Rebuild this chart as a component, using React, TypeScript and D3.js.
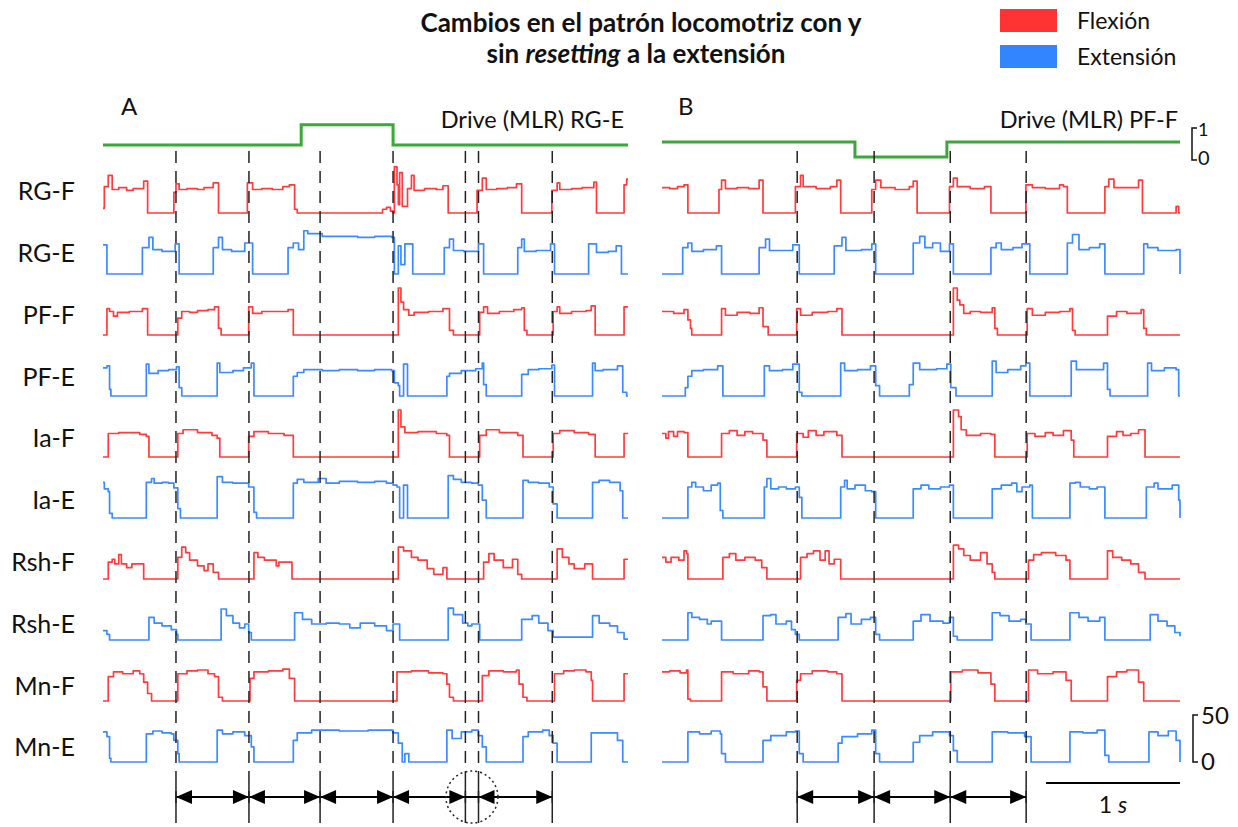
import React, { useEffect, useRef } from 'react';
import * as d3 from 'd3';

type Pt = [number, number];

// etiquetas de filas (de arriba abajo)
const rowLabels = ['RG-F', 'RG-E', 'PF-F', 'PF-E', 'Ia-F', 'Ia-E', 'Rsh-F', 'Rsh-E', 'Mn-F', 'Mn-E'];

// tiempos (s) de las lineas discontinuas
const dashA = [0.556, 1.112, 1.654, 2.21, 2.761, 2.861, 3.423];
const dashB = [1.044, 1.638, 2.226, 2.812];

// pares de lineas unidas por flechas
const arrowsA = [[0, 1], [1, 2], [2, 3], [3, 4], [5, 6]];
const arrowsB = [[0, 1], [1, 2], [2, 3]];

// drive (MLR), unidades 0..1
const driveA: Pt[] = [[0, 0.47], [1.51, 1.1], [2.21, 0.47], [4, 0.47]];
const driveB: Pt[] = [[0, 0.56], [1.49, 0.09], [2.2, 0.56], [4, 0.56]];

// ---- Panel A: actividad [t (s), valor] ----
const rgF_A: Pt[] = [[0,5],[0.01,28],[0.04,40],[0.07,25],[0.12,27],[0.18,24],[0.23,26],[0.31,34],[0.34,0],
  [0.54,22],[0.556,31],[0.58,25],[0.64,26],[0.72,25],[0.77,27],[0.84,32],[0.88,0],
  [1.1,32],[1.14,25],[1.21,26],[1.29,25],[1.37,28],[1.42,30],[1.46,4],[1.48,0],
  [2.13,4],[2.16,6],[2.19,2],[2.21,0],[2.22,49],[2.24,30],[2.25,9],[2.26,43],[2.28,7],[2.32,26],[2.35,40],[2.37,24],[2.45,26],[2.54,25],[2.59,29],[2.63,0],
  [2.85,24],[2.89,37],[2.92,25],[3.0,26],[3.08,27],[3.15,31],[3.19,0],
  [3.42,24],[3.46,32],[3.48,25],[3.57,26],[3.65,27],[3.74,33],[3.76,0],
  [3.97,30],[3.99,36],[4,36]];
const rgE_A: Pt[] = [[0,31],[0.02,31],[0.03,0],
  [0.3,28],[0.35,39],[0.38,26],[0.45,24],[0.55,32],[0.58,0],
  [0.84,28],[0.88,39],[0.91,26],[0.98,24],[1.08,33],[1.14,0],
  [1.41,28],[1.45,33],[1.49,26],[1.53,46],[1.56,43],[1.67,40],[1.8,40],[1.94,39],[2.07,40],[2.2,39],[2.22,0],[2.25,30],[2.27,10],[2.3,32],[2.36,0],
  [2.6,28],[2.64,37],[2.67,25],[2.75,24],[2.86,32],[2.9,0],
  [3.16,28],[3.19,37],[3.21,24],[3.3,25],[3.41,32],[3.44,0],
  [3.7,32],[3.76,23],[3.85,24],[3.91,30],[3.95,0],[4,0]];
const pfF_A: Pt[] = [[0,0],[0.03,28],[0.05,25],[0.08,20],[0.11,24],[0.2,25],[0.3,28],[0.34,0],
  [0.57,18],[0.6,25],[0.66,24],[0.72,26],[0.8,27],[0.85,30],[0.88,7],[0.9,0],
  [1.11,30],[1.14,23],[1.21,25],[1.32,25],[1.41,27],[1.45,0],
  [2.25,50],[2.27,35],[2.29,27],[2.33,21],[2.37,24],[2.48,25],[2.59,28],[2.64,5],[2.67,0],
  [2.87,24],[2.9,30],[2.93,23],[3.02,25],[3.13,27],[3.19,29],[3.21,5],[3.23,0],
  [3.43,25],[3.46,30],[3.48,23],[3.57,25],[3.68,26],[3.72,31],[3.75,0],
  [3.97,30],[4,30]];
const pfE_A: Pt[] = [[0,30],[0.03,32],[0.05,7],[0.06,0],
  [0.33,34],[0.35,24],[0.42,27],[0.5,28],[0.56,31],[0.58,9],[0.6,0],
  [0.87,35],[0.89,25],[0.99,27],[1.07,30],[1.13,35],[1.15,0],
  [1.45,21],[1.48,25],[1.53,28],[1.67,27],[1.8,28],[1.94,27],[2.07,28],[2.2,27],[2.22,14],[2.25,11],[2.26,0],[2.29,34],[2.32,0],
  [2.62,21],[2.64,24],[2.73,27],[2.84,29],[2.89,35],[2.9,12],[2.92,0],
  [3.19,23],[3.24,28],[3.32,29],[3.42,33],[3.44,0],
  [3.73,35],[3.75,27],[3.81,28],[3.92,32],[3.96,4],[3.99,0],[4,0]];
const iaF_A: Pt[] = [[0,0],[0.04,25],[0.12,26],[0.2,26],[0.28,24],[0.33,22],[0.35,0],
  [0.57,25],[0.61,29],[0.72,26],[0.83,23],[0.87,20],[0.89,0],
  [1.11,22],[1.15,27],[1.26,25],[1.38,23],[1.45,0],
  [2.25,50],[2.27,32],[2.3,26],[2.4,27],[2.54,25],[2.62,23],[2.64,0],
  [2.87,23],[2.92,29],[3.02,26],[3.16,23],[3.2,0],
  [3.43,25],[3.48,28],[3.59,26],[3.7,24],[3.75,0],
  [3.97,25],[4,25]];
const iaE_A: Pt[] = [[0,38],[0.01,31],[0.04,28],[0.05,5],[0.07,0],
  [0.33,38],[0.37,42],[0.39,37],[0.45,38],[0.5,37],[0.54,32],[0.57,10],[0.59,0],
  [0.87,44],[0.91,38],[0.99,37],[1.07,37],[1.11,33],[1.15,6],[1.17,0],
  [1.45,37],[1.48,41],[1.53,38],[1.64,42],[1.7,37],[1.8,39],[1.94,38],[2.07,39],[2.16,37],[2.21,35],[2.24,33],[2.26,0],[2.29,35],[2.32,0],
  [2.63,45],[2.67,41],[2.73,38],[2.81,37],[2.86,35],[2.89,19],[2.92,0],
  [3.2,40],[3.24,38],[3.32,37],[3.4,33],[3.43,15],[3.46,0],
  [3.73,38],[3.78,40],[3.86,38],[3.94,29],[3.96,0],[4,0]];
const rshF_A: Pt[] = [[0,0],[0.04,18],[0.07,21],[0.09,16],[0.12,26],[0.14,16],[0.18,12],[0.22,16],[0.31,0],
  [0.57,23],[0.6,34],[0.63,28],[0.66,20],[0.72,14],[0.77,9],[0.8,16],[0.84,7],[0.88,0],
  [1.15,28],[1.18,23],[1.23,20],[1.32,14],[1.34,18],[1.44,0],
  [2.25,34],[2.29,30],[2.35,23],[2.4,20],[2.47,11],[2.52,5],[2.59,12],[2.62,0],
  [2.9,18],[2.94,27],[2.98,20],[3.05,12],[3.12,21],[3.16,5],[3.19,0],
  [3.46,32],[3.5,23],[3.55,16],[3.59,11],[3.67,16],[3.73,0],
  [3.97,21],[4,21]];
const rshE_A: Pt[] = [[0,10],[0.03,6],[0.05,0],
  [0.35,24],[0.39,18],[0.45,15],[0.52,11],[0.56,6],[0.57,0],
  [0.9,33],[0.94,26],[0.99,18],[1.04,13],[1.08,17],[1.11,8],[1.13,0],
  [1.46,29],[1.52,22],[1.59,17],[1.7,18],[1.8,17],[1.88,13],[1.96,18],[2.07,15],[2.16,10],[2.21,17],[2.26,0],
  [2.63,34],[2.67,27],[2.74,18],[2.78,15],[2.81,17],[2.87,0],
  [3.19,22],[3.27,26],[3.32,18],[3.39,10],[3.43,3],
  [3.73,26],[3.78,18],[3.86,15],[3.92,8],[3.97,1],[4,1]];
const mnF_A: Pt[] = [[0,0],[0.04,26],[0.08,31],[0.15,29],[0.23,32],[0.28,29],[0.31,20],[0.34,8],[0.37,0],
  [0.57,29],[0.64,32],[0.72,33],[0.8,29],[0.85,26],[0.88,4],[0.91,0],
  [1.12,24],[1.15,31],[1.26,32],[1.37,34],[1.42,24],[1.46,0],
  [2.24,31],[2.35,32],[2.48,30],[2.59,29],[2.62,18],[2.64,4],[2.67,0],
  [2.89,27],[2.94,32],[3.05,31],[3.15,33],[3.17,18],[3.2,4],[3.23,0],
  [3.44,29],[3.51,32],[3.59,33],[3.68,31],[3.72,22],[3.73,0],
  [3.97,29],[4,29]];
const mnE_A: Pt[] = [[0,32],[0.03,27],[0.05,4],[0.06,0],
  [0.33,30],[0.38,33],[0.45,31],[0.52,30],[0.54,23],[0.57,9],[0.58,0],
  [0.87,34],[0.91,30],[0.99,32],[1.08,28],[1.13,16],[1.15,0],
  [1.45,23],[1.48,31],[1.59,34],[1.8,33],[2.02,34],[2.21,31],[2.25,20],[2.28,0],[2.3,9],[2.33,0],
  [2.62,34],[2.66,25],[2.73,32],[2.81,34],[2.86,28],[2.89,16],[2.92,0],
  [3.2,27],[3.24,32],[3.35,34],[3.4,28],[3.43,20],[3.46,0],
  [3.72,31],[3.84,31],[3.92,23],[3.96,0],[4,0]];

// ---- Panel B ----
const rgF_B: Pt[] = [[0,27],[0.06,26],[0.12,28],[0.17,30],[0.2,0],
  [0.44,25],[0.46,35],[0.49,26],[0.58,27],[0.67,26],[0.75,35],[0.78,0],
  [1.03,28],[1.07,40],[1.09,28],[1.19,26],[1.3,28],[1.35,35],[1.38,0],
  [1.62,25],[1.65,35],[1.69,27],[1.8,25],[1.91,28],[1.94,34],[1.97,0],
  [2.22,28],[2.25,37],[2.28,28],[2.38,26],[2.49,28],[2.54,0],
  [2.81,30],[2.86,27],[2.96,26],[3.07,30],[3.1,28],[3.13,0],
  [3.42,28],[3.45,36],[3.49,27],[3.59,27],[3.68,35],[3.71,0],
  [3.97,7],[3.99,0],[4,0]];
const rgE_B: Pt[] = [[0,0],[0.16,28],[0.2,33],[0.23,24],[0.32,26],[0.42,30],[0.46,0],
  [0.75,28],[0.8,37],[0.83,25],[0.93,25],[1.01,31],[1.06,0],
  [1.33,30],[1.39,39],[1.42,25],[1.54,26],[1.62,32],[1.65,0],
  [1.94,33],[1.99,40],[2.03,28],[2.09,33],[2.15,24],[2.22,32],[2.25,0],
  [2.54,28],[2.58,33],[2.62,26],[2.71,28],[2.78,32],[2.84,0],
  [3.13,33],[3.17,42],[3.22,26],[3.3,28],[3.38,32],[3.42,0],
  [3.72,32],[3.75,28],[3.83,25],[3.97,26],[4,0]];
const pfF_B: Pt[] = [[0,25],[0.09,23],[0.17,27],[0.2,16],[0.22,7],[0.23,0],
  [0.46,28],[0.49,21],[0.58,24],[0.68,23],[0.75,29],[0.78,9],[0.82,0],
  [1.04,28],[1.07,21],[1.16,24],[1.28,25],[1.35,28],[1.39,0],
  [2.25,50],[2.28,37],[2.3,32],[2.33,23],[2.38,25],[2.46,24],[2.55,29],[2.57,7],[2.59,0],
  [2.82,28],[2.86,21],[2.96,24],[3.07,25],[3.15,28],[3.17,5],[3.19,0],
  [3.44,20],[3.51,25],[3.59,23],[3.7,27],[3.72,7],[3.74,0],[4,0]];
const pfE_B: Pt[] = [[0,0],[0.18,9],[0.2,21],[0.23,27],[0.32,28],[0.43,32],[0.47,0],
  [0.79,32],[0.83,27],[0.93,28],[1.01,34],[1.06,4],[1.08,0],
  [1.38,35],[1.41,27],[1.51,28],[1.61,32],[1.65,11],[1.68,0],
  [1.91,12],[1.94,35],[1.99,28],[2.12,29],[2.2,34],[2.23,9],[2.27,0],
  [2.55,37],[2.58,25],[2.67,28],[2.77,32],[2.81,35],[2.84,0],
  [3.16,37],[3.2,28],[3.3,28],[3.41,35],[3.44,7],[3.46,0],
  [3.75,35],[3.78,27],[3.88,30],[3.97,28],[3.99,0],[4,0]];
const iaF_B: Pt[] = [[0,25],[0.03,20],[0.05,27],[0.09,22],[0.12,27],[0.17,26],[0.2,0],
  [0.46,25],[0.52,28],[0.58,23],[0.64,27],[0.7,25],[0.78,18],[0.81,0],
  [1.04,25],[1.09,21],[1.13,28],[1.19,23],[1.25,27],[1.35,23],[1.39,0],
  [2.25,50],[2.29,43],[2.31,29],[2.35,23],[2.46,25],[2.54,24],[2.57,0],
  [2.82,25],[2.88,22],[2.96,26],[3.02,23],[3.1,28],[3.16,18],[3.18,0],
  [3.44,22],[3.51,27],[3.56,23],[3.62,25],[3.68,29],[3.73,0],[4,0]];
const iaE_B: Pt[] = [[0,0],[0.2,33],[0.23,38],[0.26,33],[0.32,29],[0.38,35],[0.43,37],[0.45,8],[0.47,0],
  [0.79,33],[0.81,42],[0.84,31],[0.9,33],[0.96,31],[1.03,33],[1.06,22],[1.08,0],
  [1.38,33],[1.41,40],[1.43,31],[1.49,35],[1.57,29],[1.62,28],[1.65,0],
  [1.94,31],[2.0,35],[2.06,31],[2.15,33],[2.22,35],[2.25,0],
  [2.55,31],[2.62,35],[2.7,37],[2.74,28],[2.78,33],[2.84,35],[2.86,0],
  [3.15,37],[3.19,38],[3.23,33],[3.3,31],[3.36,33],[3.42,0],
  [3.74,33],[3.8,37],[3.83,31],[3.94,35],[3.99,19],[4,0]];
const rshF_B: Pt[] = [[0,23],[0.03,18],[0.07,23],[0.13,20],[0.17,30],[0.19,27],[0.2,0],
  [0.47,23],[0.52,27],[0.57,20],[0.64,23],[0.72,20],[0.77,12],[0.81,0],
  [1.07,23],[1.12,27],[1.17,30],[1.22,20],[1.26,30],[1.29,16],[1.33,21],[1.38,0],
  [2.25,36],[2.29,32],[2.33,25],[2.38,20],[2.46,28],[2.51,16],[2.55,7],[2.57,0],
  [2.83,20],[2.87,26],[2.93,28],[3.04,25],[3.12,20],[3.15,0],
  [3.44,30],[3.48,23],[3.55,20],[3.62,16],[3.68,7],[3.73,0],[4,0]];
const rshE_B: Pt[] = [[0,0],[0.2,29],[0.23,24],[0.29,22],[0.35,17],[0.38,20],[0.46,0],
  [0.78,26],[0.84,27],[0.88,17],[0.96,20],[1.0,11],[1.03,6],[1.06,0],
  [1.36,24],[1.42,28],[1.46,17],[1.54,22],[1.61,24],[1.65,6],[1.68,0],
  [1.94,20],[2.0,27],[2.07,20],[2.17,18],[2.22,24],[2.25,4],[2.28,0],
  [2.55,29],[2.61,26],[2.68,20],[2.77,22],[2.81,17],[2.85,0],
  [3.15,29],[3.22,24],[3.29,20],[3.38,24],[3.42,0],
  [3.77,27],[3.83,20],[3.9,15],[3.96,8],[4,4]];
const mnF_B: Pt[] = [[0,31],[0.06,32],[0.14,30],[0.19,33],[0.2,2],[0.22,0],
  [0.46,31],[0.55,29],[0.67,32],[0.75,31],[0.78,15],[0.81,0],
  [1.04,22],[1.07,29],[1.16,32],[1.28,31],[1.35,29],[1.39,0],
  [2.23,31],[2.32,33],[2.44,30],[2.54,18],[2.57,0],
  [2.83,33],[2.9,29],[3.02,31],[3.12,22],[3.16,0],
  [3.44,26],[3.51,31],[3.59,33],[3.68,20],[3.72,0],[4,0]];
const mnE_B: Pt[] = [[0,0],[0.2,32],[0.29,30],[0.38,33],[0.45,30],[0.46,9],[0.49,0],
  [0.78,23],[0.84,28],[0.96,32],[1.03,33],[1.06,9],[1.09,0],
  [1.36,20],[1.39,27],[1.51,30],[1.62,34],[1.65,9],[1.68,0],
  [1.94,21],[1.99,28],[2.09,32],[2.22,28],[2.25,12],[2.28,0],
  [2.55,32],[2.67,31],[2.8,27],[2.85,0],
  [3.15,32],[3.25,31],[3.36,34],[3.42,7],[3.45,0],
  [3.76,32],[3.83,28],[3.91,33],[3.97,23],[4,0]];

const tracesA = [rgF_A, rgE_A, pfF_A, pfE_A, iaF_A, iaE_A, rshF_A, rshE_A, mnF_A, mnE_A];
const tracesB = [rgF_B, rgE_B, pfF_B, pfE_B, iaF_B, iaE_B, rshF_B, rshE_B, mnF_B, mnE_B];

const RED = '#ff3b3b';
const BLUE = '#3a8bff';
const GREEN = '#3aa83a';
const FONT = 'Lato, "Open Sans", sans-serif';

const App: React.FC = () => {
  const svgRef = useRef<SVGSVGElement>(null);

  useEffect(() => {
    if (!svgRef.current) return;
    const svg = d3.select(svgRef.current);
    svg.selectAll('*').remove();

    const width = 1238;
    const height = 827;
    svg.attr('width', width).attr('height', height);
    svg.append('rect').attr('width', width).attr('height', height).attr('fill', '#fff');

    const xA = d3.scaleLinear().domain([0, 4]).range([103, 628]);
    const xB = d3.scaleLinear().domain([0, 4]).range([662, 1180]);
    const rowY = d3.scaleLinear().domain([0, 9]).range([213, 762]);
    const labelY = d3.scaleLinear().domain([0, 9]).range([194, 750]);
    const amp = d3.scaleLinear().domain([0, 50]).range([0, 47]);
    const driveY = d3.scaleLinear().domain([0, 1]).range([160, 128]);

    const drawPanel = (
      x: d3.ScaleLinear<number, number>,
      traces: Pt[][],
      drive: Pt[],
      dashes: number[],
      arrows: number[][],
    ) => {
      const g = svg.append('g');

      // drive
      const dLine = d3.line<Pt>().x(d => x(d[0])).y(d => driveY(d[1])).curve(d3.curveStepAfter);
      g.append('path').attr('d', dLine(drive)).attr('fill', 'none')
        .attr('stroke', GREEN).attr('stroke-width', 3);

      // trazas
      traces.forEach((data, i) => {
        const line = d3.line<Pt>()
          .x(d => x(d[0]))
          .y(d => rowY(i) - amp(d[1]))
          .curve(d3.curveStepAfter);
        g.append('path').attr('d', line(data)).attr('fill', 'none')
          .attr('stroke', i % 2 === 0 ? RED : BLUE)
          .attr('stroke-width', 1.7)
          .attr('stroke-linejoin', 'round');
      });

      // lineas discontinuas
      g.selectAll('.dash').data(dashes).enter().append('line')
        .attr('x1', d => x(d)).attr('x2', d => x(d))
        .attr('y1', 151).attr('y2', height)
        .attr('stroke', '#222').attr('stroke-width', 1.5)
        .attr('stroke-dasharray', '12,8');

      // flechas
      const ay = 797;
      arrows.forEach(([a, b]) => {
        const x1 = x(dashes[a]);
        const x2 = x(dashes[b]);
        g.append('line').attr('x1', x1).attr('x2', x2).attr('y1', ay).attr('y2', ay)
          .attr('stroke', '#000').attr('stroke-width', 2);
        g.append('path').attr('d', `M${x1},${ay}L${x1 + 16},${ay - 7}L${x1 + 16},${ay + 7}Z`).attr('fill', '#000');
        g.append('path').attr('d', `M${x2},${ay}L${x2 - 16},${ay - 7}L${x2 - 16},${ay + 7}Z`).attr('fill', '#000');
      });
      dashes.forEach(d => {
        g.append('line').attr('x1', x(d)).attr('x2', x(d)).attr('y1', 783).attr('y2', 811)
          .attr('stroke', '#222').attr('stroke-width', 1.5);
      });
      return g;
    };

    const gA = drawPanel(xA, tracesA, driveA, dashA, arrowsA);
    drawPanel(xB, tracesB, driveB, dashB, arrowsB);

    // segmento corto y circulo punteado (panel A)
    const c1 = xA(dashA[4]);
    const c2 = xA(dashA[5]);
    gA.append('line').attr('x1', c1).attr('x2', c2).attr('y1', 797).attr('y2', 797)
      .attr('stroke', '#000').attr('stroke-width', 2);
    gA.append('circle').attr('cx', (c1 + c2) / 2).attr('cy', 797).attr('r', 26)
      .attr('fill', 'none').attr('stroke', '#222').attr('stroke-width', 1.5)
      .attr('stroke-dasharray', '2,3');

    // etiquetas de filas
    svg.selectAll('.rowlab').data(rowLabels).enter().append('text')
      .attr('x', 75).attr('y', (_, i) => labelY(i))
      .attr('text-anchor', 'end').attr('dominant-baseline', 'middle')
      .style('font-family', FONT).style('font-size', '25px').attr('fill', '#111')
      .text(d => d);

    // letras de panel y textos del drive
    const txt = (x: number, y: number, s: string, size: number, anchor = 'start') =>
      svg.append('text').attr('x', x).attr('y', y).attr('text-anchor', anchor)
        .style('font-family', FONT).style('font-size', `${size}px`).attr('fill', '#111').text(s);
    txt(121, 115, 'A', 24);
    txt(678, 115, 'B', 24);
    txt(624, 128, 'Drive (MLR) RG-E', 23.5, 'end');
    txt(1178, 128, 'Drive (MLR) PF-F', 23.5, 'end');

    // titulo
    const title = svg.append('text').attr('text-anchor', 'middle')
      .style('font-family', FONT).style('font-size', '26px').style('font-weight', 'bold').attr('fill', '#111');
    title.append('tspan').attr('x', 641).attr('y', 32).text('Cambios en el patrón locomotriz con y');
    const l2 = title.append('tspan').attr('x', 636).attr('y', 63);
    l2.append('tspan').text('sin ');
    l2.append('tspan').style('font-style', 'italic').text('resetting');
    l2.append('tspan').text(' a la extensión');

    // leyenda
    svg.append('rect').attr('x', 1000).attr('y', 9).attr('width', 57).attr('height', 23).attr('fill', '#ff3333');
    svg.append('rect').attr('x', 1000).attr('y', 45).attr('width', 57).attr('height', 23).attr('fill', '#3385ff');
    txt(1077, 29, 'Flexión', 23);
    txt(1077, 65, 'Extensión', 23);

    // escala drive
    const bx = 1192;
    svg.append('path').attr('d', `M${bx + 5},${driveY(1)}H${bx}V${driveY(0)}H${bx + 5}`)
      .attr('fill', 'none').attr('stroke', '#111').attr('stroke-width', 1.5);
    txt(bx + 6, driveY(1) + 8, '1', 18);
    txt(bx + 6, driveY(0) + 5, '0', 20);

    // escala amplitud
    const y0 = rowY(9);
    const y50 = y0 - amp(50);
    svg.append('path').attr('d', `M${bx + 6},${y50}H${bx + 1}V${y0}H${bx + 6}`)
      .attr('fill', 'none').attr('stroke', '#111').attr('stroke-width', 1.5);
    txt(bx + 9, y50 + 9, '50', 24);
    txt(bx + 9, y0 + 8, '0', 24);

    // barra de 1 s
    svg.append('line').attr('x1', xB(4) - 134).attr('x2', xB(4)).attr('y1', 783).attr('y2', 783)
      .attr('stroke', '#000').attr('stroke-width', 2);
    const sTxt = svg.append('text').attr('x', xB(4) - 67).attr('y', 813).attr('text-anchor', 'middle')
      .style('font-family', FONT).style('font-size', '23px').attr('fill', '#111');
    sTxt.append('tspan').text('1 ');
    sTxt.append('tspan').style('font-style', 'italic').text('s');
  }, []);

  return (
    <div style={{ position: 'absolute', left: 0, top: 0 }}>
      <svg ref={svgRef}></svg>
    </div>
  );
};

export default App;
